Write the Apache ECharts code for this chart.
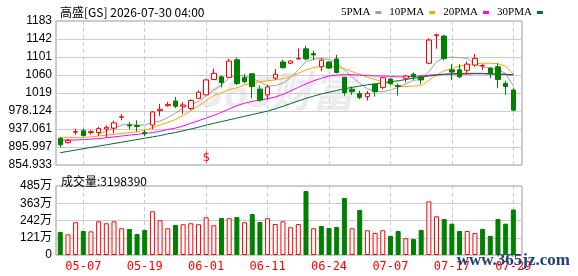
<!DOCTYPE html>
<html>
<head>
<meta charset="utf-8">
<script src="https://cdn.jsdelivr.net/npm/echarts@6/dist/echarts.min.js"></script>
<style>
  html, body { margin: 0; padding: 0; background: #fff; }
  #main { width: 578px; height: 276px; }
</style>
</head>
<body>
<div id="main"></div>
<script>
// 交易日 (05-04 ~ 07-29)
const dates = [
  '05-04','05-05','05-06','05-07','05-08','05-11','05-12','05-13','05-14','05-15',
  '05-18','05-19','05-20','05-21','05-22','05-26','05-27','05-28','05-29','06-01',
  '06-02','06-03','06-04','06-05','06-08','06-09','06-10','06-11','06-12','06-15',
  '06-16','06-17','06-18','06-22','06-23','06-24','06-25','06-26','06-29','06-30',
  '07-01','07-02','07-06','07-07','07-08','07-09','07-10','07-13','07-14','07-15',
  '07-16','07-17','07-20','07-21','07-22','07-23','07-24','07-27','07-28','07-29'
]
const labelDates = ['05-07','05-19','06-01','06-11','06-24','07-07','07-17','07-29']

const open = [
  916, 906, 930, 933, 929, 929, 937, 939, 964, 946,
  945, 929, 946, 979, 990, 1001, 989, 984, 1007, 1015,
  1050, 1056, 1055, 1095, 1054, 1063, 1028, 1015, 1053, 1090,
  1087, 1097, 1120, 1109, 1079, 1090, 1097, 1055, 1028, 1018,
  1011, 1039, 1032, 1051, 1036, 1053, 1062, 1056, 1087, 1150,
  1149, 1072, 1072, 1071, 1083, 1081, 1076, 1079, 1041, 1026
]
const close = [
  901, 911, 931, 922, 931, 938, 941, 951, 965, 944,
  943, 926, 976, 982, 993, 989, 992, 1002, 1021, 1049,
  1064, 1043, 1092, 1041, 1045, 1034, 1003, 1033, 1062, 1077,
  1092, 1098, 1097, 1106, 1094, 1076, 1066, 1020, 1022, 1009,
  1018, 1022, 1054, 1041, 1034, 1058, 1056, 1049, 1140, 1152,
  1098, 1067, 1056, 1085, 1098, 1082, 1064, 1050, 1034, 980
]
const low = [
  895, 904, 924, 920, 924, 921, 918, 927, 957, 937,
  931, 921, 936, 967, 988, 985, 971, 980, 1005, 1014,
  1049, 1032, 1054, 1037, 1041, 1007, 999, 1005, 1049, 1075,
  1085, 1096, 1094, 1094, 1069, 1074, 1064, 1013, 1015, 1005,
  1002, 1011, 1028, 1037, 1013, 1043, 1049, 1039, 1085, 1120,
  1094, 1049, 1053, 1062, 1079, 1072, 1053, 1030, 1015, 978
]
const high = [
  918, 914, 938, 938, 934, 942, 945, 956, 971, 953,
  957, 935, 977, 994, 999, 1010, 998, 1005, 1025, 1050,
  1075, 1059, 1097, 1100, 1062, 1064, 1036, 1037, 1074, 1095,
  1094, 1121, 1127, 1116, 1098, 1092, 1106, 1056, 1034, 1024,
  1024, 1041, 1056, 1053, 1041, 1060, 1066, 1060, 1144, 1155,
  1152, 1085, 1085, 1091, 1108, 1085, 1077, 1087, 1047, 1030
]

// 成交量 (万)
const volume = [
  162, 145, 230, 169, 166, 237, 223, 237, 188, 183,
  148, 176, 307, 244, 188, 211, 216, 223, 216, 265,
  209, 260, 258, 267, 230, 288, 232, 258, 218, 237,
  195, 218, 450, 188, 204, 190, 197, 401, 188, 316,
  174, 155, 174, 134, 169, 117, 112, 176, 377, 272,
  253, 220, 169, 169, 155, 183, 134, 253, 220, 319.839
]

const ma5 = [
  null, null, null, null, null, 925, 933, 938, 946, 948,
  946, 946, 952, 955, 963, 973, 985, 992, 1000, 1012,
  1026, 1037, 1054, 1060, 1058, 1052, 1045, 1035, 1036, 1042,
  1054, 1072, 1091, 1096, 1098, 1096, 1088, 1072, 1056, 1041,
  1029, 1023, 1022, 1026, 1032, 1040, 1048, 1050, 1068, 1090,
  1100, 1101, 1100, 1098, 1085, 1079, 1076, 1072, 1064, 1036
]
const ma10 = [
  918, 918, 918, 918, 919, 921, 923, 925, 927, 929,
  931, 934, 940, 946, 952, 959, 968, 978, 990, 1002,
  1013, 1020, 1027, 1031, 1038, 1041, 1045, 1047, 1049, 1052,
  1056, 1064, 1072, 1077, 1080, 1081, 1078, 1075, 1068, 1062,
  1055, 1050, 1044, 1040, 1034, 1034, 1035, 1036, 1048, 1060,
  1070, 1075, 1080, 1084, 1086, 1087, 1087, 1086, 1080, 1062
]
const ma20 = [
  912, 912, 912, 913, 914, 915, 917, 919, 921, 923,
  925, 927, 929, 932, 936, 939, 944, 950, 956, 962,
  968, 975, 983, 990, 996, 1000, 1003, 1006, 1010, 1016,
  1024, 1032, 1040, 1047, 1053, 1058, 1060, 1061, 1061, 1060,
  1059, 1058, 1058, 1057, 1056, 1056, 1057, 1058, 1060, 1061,
  1062, 1062, 1062, 1062, 1063, 1063, 1062, 1062, 1061, 1060
]
const ma30 = [
  883, 886, 889, 892, 895, 898, 901, 904, 907, 910,
  913, 916, 919, 922, 926, 929, 933, 937, 941, 946,
  950, 954, 958, 962, 966, 970, 974, 978, 983, 989,
  995, 1001, 1007, 1012, 1017, 1021, 1025, 1029, 1032, 1035,
  1038, 1040, 1043, 1045, 1047, 1050, 1053, 1055, 1058, 1060,
  1062, 1063, 1064, 1064, 1064, 1064, 1063, 1063, 1062, 1061
]

const priceTicks = ['854.933','895.997','937.061','978.124','1019','1060','1101','1142','1183']
const volTicks = ['0','121万','242万','363万','485万']

const priceMin = 854.933
const priceStep = 41.0635
const priceMax = priceMin + 8 * priceStep
const volMax = 485
const volStep = 121.25

const RED = '#ff0000'
const GREEN = '#008000'

const kData = dates.map((d, i) => [open[i], close[i], low[i], high[i]])

// 成交量颜色: 与前一日收盘比较
const volData = volume.map((v, i) => {
  let up = i === 0 ? close[0] >= open[0] : close[i] >= close[i - 1]
  return {
    value: v,
    itemStyle: up ? { color: '#fff', borderColor: RED, borderWidth: 1 } : { color: GREEN, borderColor: GREEN, borderWidth: 1 }
  }
})

const showDate = (idx, val) => labelDates.indexOf(val) >= 0

const maLine = (name, data, color) => ({
  name: name,
  type: 'line',
  xAxisIndex: 1,
  yAxisIndex: 1,
  data: data,
  symbol: 'none',
  clip: false,
  lineStyle: { width: 1, color: color },
  itemStyle: { color: color },
  z: 2
})

const option = {
  animation: false,
  backgroundColor: '#fff',
  textStyle: { fontFamily: 'Liberation Sans, Arial, "Noto Sans CJK SC"' },
  title: [
    {
      text: '高盛[GS] 2026-07-30 04:00',
      left: 55, top: 1,
      textStyle: { fontSize: 12, fontWeight: 'normal', color: '#000', fontFamily: '"Noto Sans CJK SC", sans-serif' }
    },
    {
      text: '成交量:3198390',
      left: 56, top: 170,
      textStyle: { fontSize: 12, fontWeight: 'normal', color: '#000', fontFamily: '"Noto Sans CJK SC", sans-serif' }
    }
  ],
  legend: {
    left: 336, top: 2,
    align: 'right',
    itemWidth: 6, itemHeight: 3,
    itemGap: 8,
    textStyle: { fontSize: 11, color: '#000', fontFamily: 'Liberation Serif, serif' },
    data: [
      { name: '5PMA', icon: 'rect' },
      { name: '10PMA', icon: 'rect' },
      { name: '20PMA', icon: 'rect' },
      { name: '30PMA', icon: 'rect' }
    ]
  },
  graphic: [
    {
      type: 'text', left: 196, top: 70, z: -1, silent: true,
      style: { text: '365财富', font: 'italic bold 42px "Noto Sans CJK SC"', fill: '#ececf0' }
    },
    {
      type: 'text', right: 8, top: 252, z: 100, silent: true,
      style: { text: 'www.365jz.com', font: 'bold 17px "Liberation Serif", serif', fill: '#23407a' }
    }
  ],
  grid: [
    { left: 56, top: 21, width: 466, height: 144, show: true, borderColor: '#999', borderWidth: 1 },
    { left: 60.26, top: 21, width: 453.06, height: 144 },
    { left: 56, top: 186, width: 466, height: 69, show: true, borderColor: '#999', borderWidth: 1 },
    { left: 60.26, top: 186, width: 453.06, height: 69 }
  ],
  xAxis: [
    { gridIndex: 0, type: 'value', min: 0, max: 1, show: false },
    {
      gridIndex: 1, type: 'category', data: dates, boundaryGap: false,
      axisLine: { show: false }, axisTick: { show: false }, axisLabel: { show: false },
      splitLine: { show: true, interval: showDate, lineStyle: { color: '#ccc', type: [4, 3] } }
    },
    { gridIndex: 2, type: 'value', min: 0, max: 1, show: false },
    {
      gridIndex: 3, type: 'category', data: dates, boundaryGap: false,
      axisLine: { show: false }, axisTick: { show: false },
      axisLabel: { show: true, interval: showDate, color: RED, fontSize: 12, margin: 6, fontFamily: 'DejaVu Sans Mono, monospace' },
      splitLine: { show: true, interval: showDate, lineStyle: { color: '#ccc', type: [4, 3] } }
    }
  ],
  yAxis: [
    {
      gridIndex: 0, type: 'value', min: priceMin, max: priceMax, interval: priceStep,
      axisLine: { show: false }, axisTick: { show: false },
      axisLabel: {
        color: '#000', fontSize: 12, margin: 4,
        formatter: v => priceTicks[Math.round((v - priceMin) / priceStep)]
      },
      splitLine: { lineStyle: { color: '#ccc' } }
    },
    { gridIndex: 1, type: 'value', min: priceMin, max: priceMax, show: false },
    {
      gridIndex: 2, type: 'value', min: 0, max: volMax, interval: volStep,
      axisLine: { show: false }, axisTick: { show: false },
      axisLabel: {
        color: '#000', fontSize: 12, margin: 4,
        formatter: v => volTicks[Math.round(v / volStep)]
      },
      splitLine: { lineStyle: { color: '#ccc' } }
    },
    { gridIndex: 3, type: 'value', min: 0, max: volMax, show: false }
  ],
  series: [
    maLine('5PMA', ma5, '#a0a0a0'),
    maLine('10PMA', ma10, '#ffa500'),
    maLine('20PMA', ma20, '#ff00ff'),
    maLine('30PMA', ma30, '#006b35'),
    {
      name: 'K',
      type: 'candlestick',
      xAxisIndex: 1,
      yAxisIndex: 1,
      data: kData,
      barWidth: 5,
      clip: false,
      z: 3,
      itemStyle: {
        color: '#fff',
        color0: GREEN,
        borderColor: RED,
        borderColor0: GREEN,
        borderWidth: 1
      },
      markPoint: {
        symbol: 'rect',
        symbolSize: 0,
        label: { show: true, formatter: '$', color: RED, fontSize: 12, fontFamily: 'DejaVu Sans Mono, monospace' },
        data: [{ coord: ['06-01', 871] }]
      }
    },
    {
      name: 'VOL',
      type: 'bar',
      xAxisIndex: 3,
      yAxisIndex: 3,
      data: volData,
      barWidth: 5,
      clip: false
    }
  ]
}

let chart = echarts.init(document.getElementById('main'))
chart.setOption(option)
</script>
</body>
</html>
